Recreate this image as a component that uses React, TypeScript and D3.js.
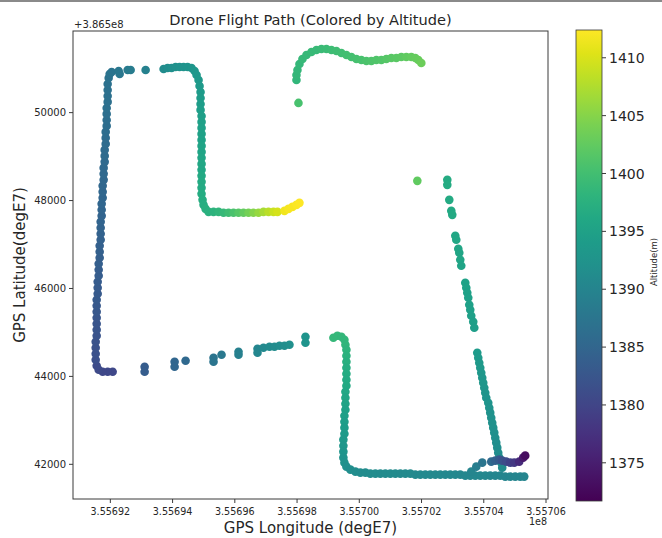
import { useEffect, useRef } from "react"
import * as d3 from "d3"

// each fix: [longitude degE7, latitude degE7, altitude m]
type Fix = [number, number, number]

const westLeg: Fix[] = [
    [355692074, 386544106, 1380.5], [355691914, 386544106, 1380.5], [355691753, 386544106, 1380.6],
    [355691625, 386544152, 1380.8], [355691561, 386544243, 1381.0], [355691529, 386544379, 1381.6],
    [355691529, 386544516, 1381.8], [355691529, 386544652, 1381.9], [355691529, 386544788, 1382.1],
    [355691561, 386544925, 1382.2], [355691561, 386545061, 1382.4], [355691561, 386545198, 1382.5],
    [355691561, 386545334, 1382.6], [355691561, 386545470, 1382.8], [355691561, 386545607, 1382.9],
    [355691561, 386545743, 1383.0], [355691593, 386545879, 1383.1], [355691593, 386546016, 1383.3],
    [355691593, 386546152, 1383.4], [355691625, 386546289, 1383.5], [355691625, 386546425, 1383.6],
    [355691625, 386546561, 1383.8], [355691657, 386546698, 1383.9], [355691657, 386546834, 1384.0],
    [355691657, 386546970, 1384.1], [355691689, 386547107, 1384.2], [355691689, 386547243, 1384.4],
    [355691689, 386547380, 1384.5], [355691689, 386547516, 1384.6], [355691721, 386547652, 1384.7],
    [355691721, 386547789, 1384.8], [355691721, 386547925, 1384.9], [355691753, 386548061, 1385.0],
    [355691753, 386548198, 1385.1], [355691753, 386548334, 1385.2], [355691785, 386548471, 1385.3],
    [355691785, 386548607, 1385.4], [355691785, 386548743, 1385.5], [355691818, 386548880, 1385.6],
    [355691818, 386549016, 1385.7], [355691818, 386549152, 1385.8], [355691850, 386549289, 1385.9],
    [355691850, 386549425, 1386.0], [355691850, 386549562, 1386.1], [355691882, 386549698, 1386.2],
    [355691882, 386549834, 1386.3], [355691882, 386549971, 1386.4], [355691882, 386550107, 1386.5],
    [355691914, 386550244, 1386.6], [355691914, 386550380, 1386.7], [355691914, 386550516, 1386.8],
    [355691914, 386550653, 1386.9], [355691946, 386550789, 1387.0], [355691978, 386550880, 1387.2],
    [355692042, 386550925, 1387.4],
]

const northLeg: Fix[] = [
    [355692267, 386550948, 1387.8], [355692299, 386550880, 1387.8], [355692556, 386550971, 1388.4],
    [355692652, 386550971, 1388.6], [355693134, 386550971, 1389.5], [355693711, 386550994, 1391.3],
    [355693840, 386551016, 1391.6], [355693968, 386551016, 1391.9], [355694097, 386551039, 1392.2],
    [355694225, 386551039, 1392.4], [355694353, 386551039, 1392.6], [355694482, 386551039, 1392.8],
    [355694610, 386551016, 1393.0], [355694707, 386550948, 1393.2], [355694771, 386550857, 1393.4],
    [355694835, 386550744, 1393.5], [355694867, 386550607, 1393.7], [355694899, 386550471, 1393.9],
    [355694899, 386550334, 1394.0], [355694899, 386550198, 1394.2], [355694899, 386550062, 1394.4],
    [355694931, 386549925, 1394.5], [355694931, 386549789, 1394.7], [355694931, 386549653, 1394.9],
    [355694931, 386549516, 1395.0], [355694931, 386549380, 1395.2], [355694931, 386549243, 1395.4],
    [355694931, 386549107, 1395.5], [355694931, 386548971, 1395.7], [355694931, 386548834, 1395.9],
    [355694931, 386548698, 1396.0], [355694931, 386548562, 1396.2], [355694931, 386548425, 1396.4],
    [355694931, 386548289, 1396.5], [355694931, 386548152, 1396.7], [355694963, 386548016, 1396.9],
    [355694995, 386547902, 1397.1], [355695060, 386547811, 1397.4], [355695156, 386547743, 1397.6],
    [355695316, 386547743, 1397.8], [355695477, 386547743, 1398.3], [355695637, 386547721, 1399.0],
    [355695798, 386547721, 1399.8], [355695958, 386547721, 1400.7], [355696119, 386547721, 1401.6],
    [355696279, 386547721, 1402.6], [355696440, 386547721, 1403.7], [355696600, 386547721, 1404.8],
    [355696761, 386547721, 1405.9], [355696921, 386547743, 1407.1], [355697082, 386547743, 1408.2],
    [355697242, 386547743, 1409.2], [355697371, 386547743, 1409.8], [355697596, 386547766, 1411.5],
    [355697724, 386547811, 1411.8], [355697852, 386547857, 1412.0], [355697981, 386547902, 1412.2],
    [355698077, 386547948, 1412.3],
]

const northHook: Fix[] = [
    [355698045, 386550221, 1400.5],
    [355697981, 386550744, 1398.5], [355697981, 386550857, 1398.6], [355698013, 386550971, 1398.7],
    [355698077, 386551107, 1398.8], [355698173, 386551221, 1398.9], [355698302, 386551312, 1399.0],
    [355698462, 386551380, 1399.1], [355698623, 386551426, 1399.2], [355698783, 386551448, 1399.3],
    [355698944, 386551448, 1399.4], [355699104, 386551426, 1399.6], [355699265, 386551403, 1399.7],
    [355699425, 386551357, 1399.9], [355699586, 386551312, 1400.0], [355699746, 386551266, 1400.2],
    [355699907, 386551221, 1400.4], [355700067, 386551198, 1400.6], [355700228, 386551176, 1400.8],
    [355700388, 386551176, 1401.0], [355700549, 386551198, 1401.2], [355700709, 386551198, 1401.4],
    [355700870, 386551221, 1401.6], [355701030, 386551244, 1401.8], [355701191, 386551244, 1402.0],
    [355701351, 386551266, 1402.2], [355701512, 386551266, 1402.4], [355701672, 386551266, 1402.6],
    [355701801, 386551244, 1402.8], [355701897, 386551198, 1403.0], [355701993, 386551130, 1403.2],
    [355701865, 386548448, 1402.5],
]

const eastLeg: Fix[] = [
    [355702828, 386548471, 1396.6], [355702828, 386548357, 1396.6], [355702892, 386548016, 1396.4],
    [355702956, 386547766, 1396.2], [355702988, 386547675, 1396.2], [355703085, 386547198, 1395.9],
    [355703117, 386547107, 1395.9], [355703181, 386546902, 1395.7], [355703213, 386546811, 1395.7],
    [355703245, 386546652, 1395.6], [355703277, 386546516, 1395.5], [355703406, 386546129, 1395.2],
    [355703438, 386546016, 1395.1], [355703470, 386545902, 1395.0], [355703502, 386545789, 1394.9],
    [355703534, 386545629, 1394.8], [355703566, 386545516, 1394.7], [355703598, 386545379, 1394.6],
    [355703662, 386545243, 1394.5], [355703695, 386545107, 1394.4], [355703791, 386544538, 1393.8],
    [355703823, 386544425, 1393.7], [355703855, 386544311, 1393.6], [355703887, 386544197, 1393.5],
    [355703919, 386544084, 1393.4], [355703951, 386543970, 1393.3], [355703983, 386543856, 1393.2],
    [355704016, 386543743, 1393.1], [355704048, 386543629, 1393.0], [355704080, 386543516, 1392.8],
    [355704144, 386543402, 1392.7], [355704176, 386543288, 1392.6], [355704208, 386543175, 1392.5],
    [355704240, 386543061, 1392.3], [355704272, 386542947, 1392.2], [355704304, 386542834, 1392.1],
    [355704337, 386542720, 1392.0], [355704369, 386542606, 1391.8], [355704401, 386542493, 1391.7],
    [355704433, 386542379, 1391.6], [355704465, 386542265, 1391.5], [355704497, 386542152, 1391.4],
    [355704561, 386542038, 1391.3], [355704593, 386541924, 1391.2],
]

const southLeg: Fix[] = [
    [355699168, 386544879, 1398.8], [355699297, 386544925, 1398.8], [355699425, 386544902, 1398.7],
    [355699522, 386544834, 1398.5], [355699554, 386544720, 1398.3], [355699586, 386544607, 1398.0],
    [355699586, 386544470, 1397.7], [355699586, 386544334, 1397.4], [355699586, 386544197, 1397.1],
    [355699586, 386544061, 1396.8], [355699586, 386543925, 1396.5], [355699586, 386543788, 1396.2],
    [355699554, 386543652, 1395.9], [355699554, 386543516, 1395.6], [355699554, 386543379, 1395.3],
    [355699554, 386543243, 1395.0], [355699522, 386543106, 1394.7], [355699522, 386542970, 1394.4],
    [355699522, 386542834, 1394.1], [355699522, 386542697, 1393.8], [355699489, 386542561, 1393.5],
    [355699489, 386542424, 1393.2], [355699489, 386542288, 1392.9], [355699489, 386542152, 1392.6],
    [355699522, 386542038, 1392.3], [355699586, 386541947, 1392.0], [355699714, 386541879, 1391.7],
    [355699875, 386541833, 1391.5], [355700035, 386541811, 1391.4], [355700196, 386541811, 1391.4],
    [355700356, 386541788, 1391.3], [355700517, 386541788, 1391.3], [355700677, 386541788, 1391.2],
    [355700838, 386541788, 1391.2], [355700998, 386541788, 1391.1], [355701159, 386541788, 1391.1],
    [355701319, 386541788, 1391.0], [355701480, 386541788, 1391.0], [355701640, 386541788, 1391.0],
    [355701801, 386541765, 1390.9], [355701961, 386541765, 1390.9], [355702122, 386541765, 1390.9],
    [355702282, 386541765, 1390.8], [355702443, 386541765, 1390.8], [355702603, 386541765, 1390.8],
    [355702764, 386541765, 1390.7], [355702924, 386541765, 1390.7], [355703085, 386541765, 1390.7],
    [355703245, 386541765, 1390.6], [355703406, 386541743, 1390.6], [355703566, 386541743, 1390.6],
    [355703727, 386541743, 1390.5], [355703887, 386541743, 1390.5], [355704048, 386541743, 1390.5],
    [355704208, 386541743, 1390.4], [355704369, 386541743, 1390.4], [355704529, 386541743, 1390.4],
    [355704690, 386541720, 1390.3], [355704850, 386541720, 1390.3], [355705011, 386541720, 1390.3],
    [355705171, 386541720, 1390.2], [355705300, 386541720, 1390.2],
]

const southwestDots: Fix[] = [
    [355693102, 386544220, 1383.6], [355693102, 386544106, 1383.6], [355694065, 386544334, 1384.9],
    [355694065, 386544220, 1384.9], [355694418, 386544357, 1385.5], [355695316, 386544425, 1387.4],
    [355695316, 386544334, 1387.4], [355695573, 386544493, 1388.0], [355696119, 386544561, 1389.3],
    [355696119, 386544493, 1389.3], [355696729, 386544629, 1390.4], [355696729, 386544538, 1390.4],
    [355696921, 386544652, 1390.8], [355697114, 386544675, 1391.1], [355697275, 386544675, 1391.3],
    [355697435, 386544697, 1391.5], [355697596, 386544697, 1391.7], [355697756, 386544720, 1391.9],
    [355698270, 386544902, 1392.8], [355698270, 386544766, 1392.8],
]

const takeoffLoop: Fix[] = [
    [355703598, 386541833, 1390.2], [355703759, 386541947, 1389.0], [355703951, 386542038, 1387.5],
    [355704240, 386542061, 1385.5], [355704369, 386542084, 1384.2], [355704497, 386542106, 1383.0],
    [355704593, 386542084, 1382.0], [355704722, 386542061, 1381.0], [355704850, 386542038, 1379.8],
    [355704979, 386542038, 1378.5], [355705139, 386542061, 1376.5], [355705267, 386542152, 1374.5],
    [355705332, 386542197, 1373.0],
]

const lonTicks = [355692000, 355694000, 355696000, 355698000, 355700000, 355702000, 355704000, 355706000]
const latTicks = [386542000, 386544000, 386546000, 386548000, 386550000]
const altTicks = [1375, 1380, 1385, 1390, 1395, 1400, 1405, 1410]
const LAT_OFFSET = 386500000
const lonDomain = [355690800, 355706064]
const latDomain = [386541211, 386551857]
const altDomain = [1371.7, 1412.4]

const FONT = "DejaVu Sans, sans-serif"
const INK = "#262626"

export default function App() {
    const ref = useRef<SVGSVGElement>(null)

    useEffect(() => {
        const svg = d3.select(ref.current)
        svg.selectAll("*").remove()

        const plot = { left: 73, right: 548, top: 31, bottom: 499 }
        const bar = { left: 576, right: 602, top: 30, bottom: 501 }

        const x = d3.scaleLinear().domain(lonDomain).range([plot.left, plot.right])
        const y = d3.scaleLinear().domain(latDomain).range([plot.bottom, plot.top])
        const color = d3.scaleSequential(d3.interpolateViridis).domain(altDomain)
        const barY = d3.scaleLinear().domain(altDomain).range([bar.bottom, bar.top])

        svg.append("rect").attr("width", 662).attr("height", 538).attr("fill", "#fff")
        svg.append("rect").attr("width", 662).attr("height", 2).attr("fill", "#8a8a8a")

        const points = [
            ...westLeg, ...northLeg, ...northHook, ...eastLeg,
            ...southLeg, ...southwestDots, ...takeoffLoop,
        ]

        svg.append("g")
            .selectAll("circle")
            .data(points)
            .join("circle")
            .attr("cx", d => x(d[0]))
            .attr("cy", d => y(d[1]))
            .attr("r", 4.3)
            .attr("fill", d => color(d[2]))

        // frame
        svg.append("rect")
            .attr("x", plot.left).attr("y", plot.top)
            .attr("width", plot.right - plot.left).attr("height", plot.bottom - plot.top)
            .attr("fill", "none").attr("stroke", "#3a3a3a").attr("stroke-width", 1)

        const xt = svg.append("g")
        xt.selectAll("line").data(lonTicks).join("line")
            .attr("x1", d => x(d)).attr("x2", d => x(d))
            .attr("y1", plot.bottom).attr("y2", plot.bottom + 4)
            .attr("stroke", "#3a3a3a")
        xt.selectAll("text").data(lonTicks).join("text")
            .attr("x", d => x(d)).attr("y", 514.5)
            .attr("text-anchor", "middle")
            .attr("font-family", FONT).attr("font-size", 9.6).attr("fill", INK)
            .text(d => (d / 1e8).toFixed(5))

        const yt = svg.append("g")
        yt.selectAll("line").data(latTicks).join("line")
            .attr("x1", plot.left - 4).attr("x2", plot.left)
            .attr("y1", d => y(d)).attr("y2", d => y(d))
            .attr("stroke", "#3a3a3a")
        yt.selectAll("text").data(latTicks).join("text")
            .attr("x", plot.left - 7).attr("y", d => y(d))
            .attr("dy", "0.35em")
            .attr("text-anchor", "end")
            .attr("font-family", FONT).attr("font-size", 10).attr("fill", INK)
            .text(d => String(d - LAT_OFFSET))

        svg.append("text")
            .attr("x", plot.left + 1).attr("y", 28)
            .attr("font-family", FONT).attr("font-size", 10).attr("fill", INK)
            .text("+3.865e8")
        svg.append("text")
            .attr("x", plot.right - 1).attr("y", 525)
            .attr("text-anchor", "end")
            .attr("font-family", FONT).attr("font-size", 9.6).attr("fill", INK)
            .text("1e8")

        svg.append("text")
            .attr("x", (plot.left + plot.right) / 2).attr("y", 25)
            .attr("text-anchor", "middle")
            .attr("font-family", FONT).attr("font-size", 14.6).attr("fill", INK)
            .text("Drone Flight Path (Colored by Altitude)")
        svg.append("text")
            .attr("x", (plot.left + plot.right) / 2).attr("y", 533)
            .attr("text-anchor", "middle")
            .attr("font-family", FONT).attr("font-size", 15).attr("fill", INK)
            .text("GPS Longitude (degE7)")
        svg.append("text")
            .attr("transform", `translate(25,${(plot.top + plot.bottom) / 2}) rotate(-90)`)
            .attr("text-anchor", "middle")
            .attr("font-family", FONT).attr("font-size", 15).attr("fill", INK)
            .text("GPS Latitude(degE7)")

        // colorbar
        const grad = svg.append("defs").append("linearGradient")
            .attr("id", "viridis-bar")
            .attr("x1", 0).attr("y1", 1).attr("x2", 0).attr("y2", 0)
        d3.range(0, 1.0001, 0.05).forEach(t => {
            grad.append("stop").attr("offset", t).attr("stop-color", d3.interpolateViridis(t))
        })
        svg.append("rect")
            .attr("x", bar.left).attr("y", bar.top)
            .attr("width", bar.right - bar.left).attr("height", bar.bottom - bar.top)
            .attr("fill", "url(#viridis-bar)")
            .attr("stroke", "#3a3a3a").attr("stroke-width", 0.8)

        const ct = svg.append("g")
        ct.selectAll("line").data(altTicks).join("line")
            .attr("x1", bar.right).attr("x2", bar.right + 4)
            .attr("y1", d => barY(d)).attr("y2", d => barY(d))
            .attr("stroke", "#3a3a3a")
        ct.selectAll("text").data(altTicks).join("text")
            .attr("x", bar.right + 7).attr("y", d => barY(d))
            .attr("dy", "0.36em")
            .attr("font-family", FONT).attr("font-size", 14).attr("fill", INK)
            .text(d => String(d))
        svg.append("text")
            .attr("transform", `translate(657,262) rotate(-90)`)
            .attr("text-anchor", "middle")
            .attr("font-family", FONT).attr("font-size", 8.5).attr("fill", INK)
            .text("Altitude(m)")
    }, [])

    return (
        <svg
            ref={ref}
            width={662}
            height={538}
            style={{ position: "absolute", left: 0, top: 0 }}
        />
    )
}
